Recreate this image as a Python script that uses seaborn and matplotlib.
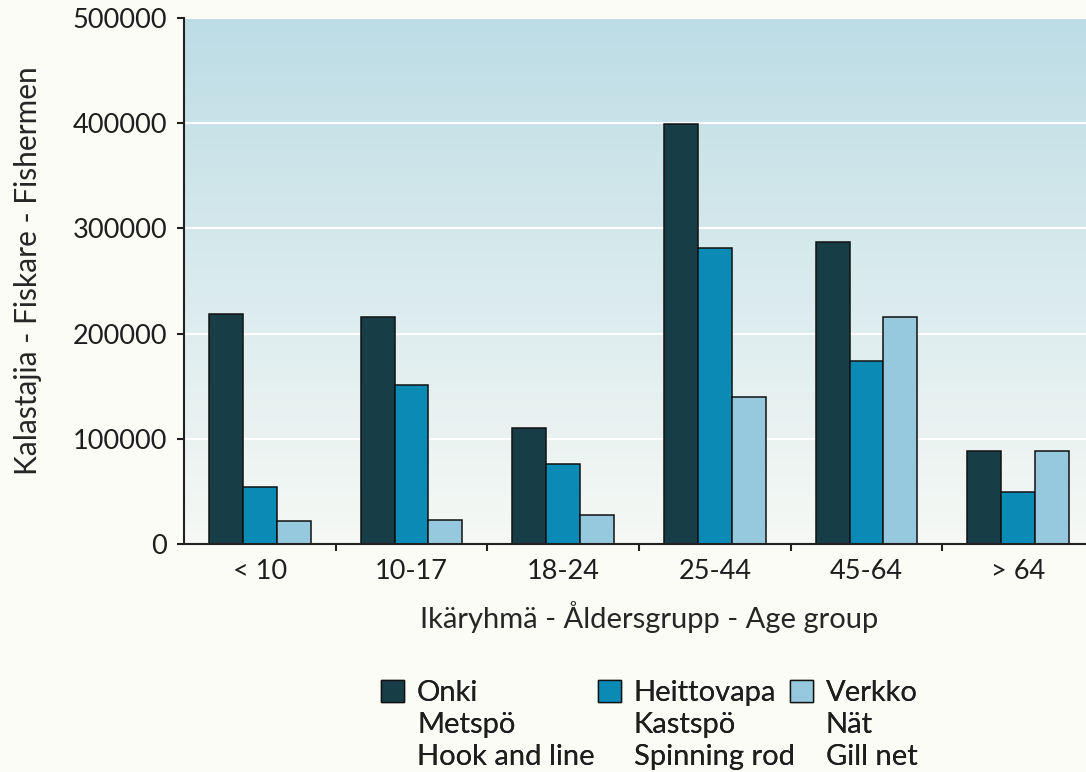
import numpy as np
import pandas as pd
import matplotlib
matplotlib.use("Agg")
import matplotlib.pyplot as plt
import matplotlib.patches as mpatches
import seaborn as sns

# data
age_groups = ["< 10", "10-17", "18-24", "25-44", "45-64", "> 64"]
methods = ["Onki", "Heittovapa", "Verkko"]
onki = [219000, 216000, 110000, 399000, 287000, 88000]
heittovapa = [54000, 151000, 76000, 281000, 174000, 49000]
verkko = [22000, 23000, 28000, 140000, 216000, 88000]
legend_lines = [["Onki", "Metspö", "Hook and line"],
                ["Heittovapa", "Kastspö", "Spinning rod"],
                ["Verkko", "Nät", "Gill net"]]
colors = ["#173e46", "#0a8bb6", "#96c9de"]

df = pd.DataFrame({
    "age": age_groups * 3,
    "method": [m for m in methods for _ in age_groups],
    "count": onki + heittovapa + verkko,
})

sns.set_style("ticks")
plt.rcParams["font.family"] = ["Lato", "DejaVu Sans"]
plt.rcParams["text.color"] = "#1e1e1e"

fig = plt.figure(figsize=(10.86, 7.72), dpi=100, facecolor="#fcfcf6")
ax = fig.add_axes([184 / 1086, 1 - 544 / 772, 910 / 1086, 526 / 772])

sns.barplot(data=df, x="age", y="count", hue="method", palette=colors,
            width=0.67, edgecolor="#111111", linewidth=1.1, saturation=1,
            legend=False, ax=ax)

# light blue to white background
grad = np.linspace(0, 1, 256)[:, None]
top = np.array([0.74, 0.865, 0.9])
bottom = np.array([0.965, 0.975, 0.96])
img = bottom + (top - bottom) * grad
img = np.repeat(img[:, None, :], 2, axis=1)
ax.imshow(img, extent=(0, 1, 0, 1), transform=ax.transAxes, origin="lower",
          aspect="auto", zorder=0)
ax.set_facecolor("none")

ax.set_xlim(-0.5, 5.5)
ax.set_ylim(0, 500000)
ax.set_yticks([0, 100000, 200000, 300000, 400000, 500000])
ax.set_yticklabels(["0", "100000", "200000", "300000", "400000", "500000"])
ax.yaxis.grid(True, color="white", linewidth=1.5)
ax.set_axisbelow(True)

ax.set_xticks(range(6))
ax.set_xticklabels(age_groups)
ax.set_xticks(np.arange(0.5, 5.6, 1), minor=True)
ax.tick_params(axis="x", which="major", length=0, pad=11, labelsize=19.5, colors="#1e1e1e")
ax.tick_params(axis="x", which="minor", length=5, width=1.5, direction="out", color="#222222")
ax.tick_params(axis="y", length=5, width=1.5, pad=7, labelsize=19.5, colors="#1e1e1e")

sns.despine(ax=ax)
for s in ["left", "bottom"]:
    ax.spines[s].set_linewidth(1.5)
    ax.spines[s].set_color("#222222")

ax.set_ylabel("Kalastajia - Fiskare - Fishermen", fontsize=21.5)
ax.yaxis.set_label_coords(-0.156, 0.52)
ax.set_xlabel("Ikäryhmä - Åldersgrupp - Age group", fontsize=21)
ax.xaxis.set_label_coords(0.511, -0.108)
ax.xaxis.label.set_va("top")

# legend: one small legend per method, coloured square on the first line
legend_x = [381, 598, 790]
for c, lines, lx in zip(colors, legend_lines, legend_x):
    handles = [mpatches.Patch(facecolor=c, edgecolor="#111111", linewidth=1)]
    handles += [mpatches.Patch(facecolor="none", edgecolor="none")] * 2
    leg = fig.legend(handles, lines, loc="upper left",
                     bbox_to_anchor=(lx / 1086, 1 - 680 / 772), frameon=False,
                     fontsize=21, borderpad=0, borderaxespad=0,
                     handlelength=0.78, handleheight=0.78, handletextpad=0.45,
                     labelspacing=0.2)
    fig.add_artist(leg)

fig.savefig("out.png", dpi=100, facecolor=fig.get_facecolor())
